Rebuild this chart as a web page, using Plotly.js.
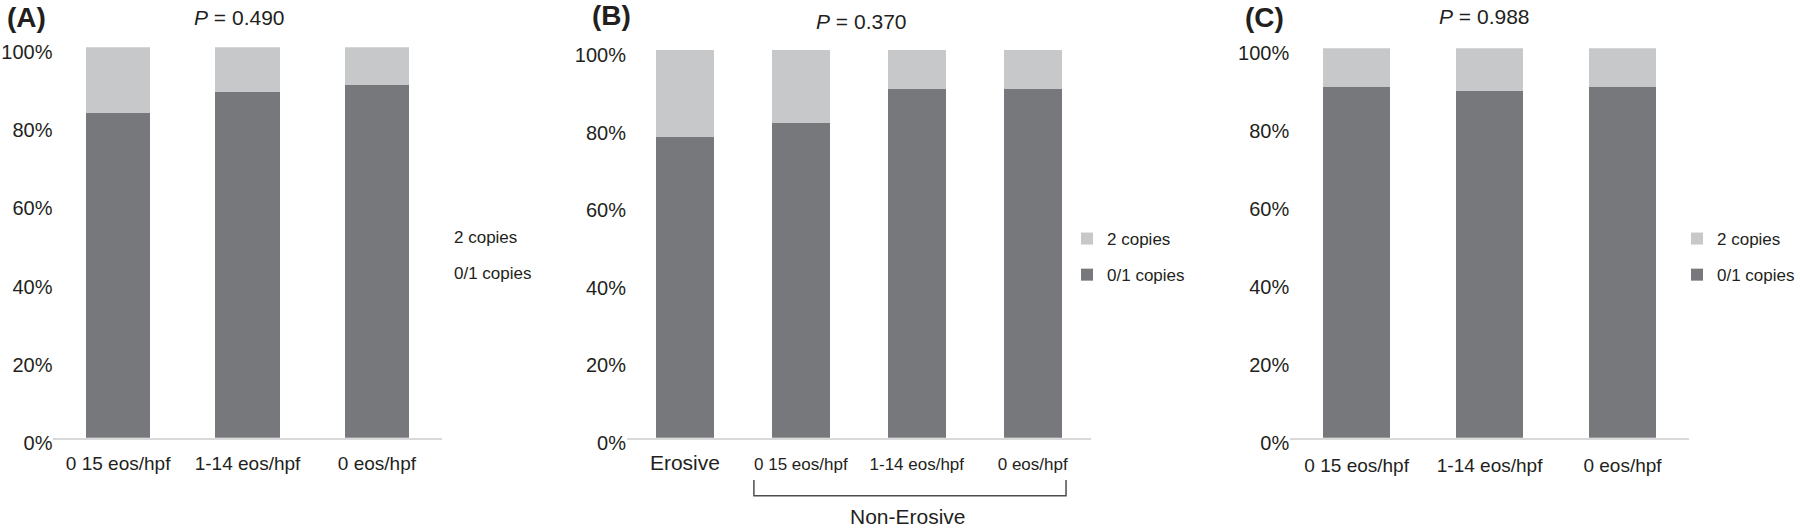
<!DOCTYPE html>
<html>
<head>
<meta charset="utf-8">
<script src="https://cdn.plot.ly/plotly-3.0.1.min.js"></script>
<style>html,body{margin:0;padding:0;background:#fff;}#chart{width:1800px;height:528px;}</style>
</head>
<body>
<div id="chart"></div>
<script>
// ---- data ----
const seriesNames = ["0/1 copies", "2 copies"];
const catsA = ["0 15 eos/hpf", "1-14 eos/hpf", "0 eos/hpf"];
const lowA = [83.3, 88.5, 90.4];
const highA = [16.7, 11.5, 9.6];
const catsB = ["Erosive", "0 15 eos/hpf", "1-14 eos/hpf", "0 eos/hpf"];
const lowB = [77.5, 81.2, 90.0, 90.0];
const highB = [22.5, 18.8, 10.0, 10.0];
const catsC = ["0 15 eos/hpf", "1-14 eos/hpf", "0 eos/hpf"];
const lowC = [90.0, 89.0, 90.0];
const highC = [10.0, 11.0, 10.0];
const yTicks = [0, 20, 40, 60, 80, 100];
const yTickText = ["0%", "20%", "40%", "60%", "80%", "100%"];
const panelLabels = ["(A)", "(B)", "(C)"];
const pValues = ["0.490", "0.370", "0.988"];
const groupLabel = "Non-Erosive";

// ---- style ----
const FONT = "Liberation Sans, Arial, Helvetica, sans-serif";
const DARK = "#77787b", LIGHT = "#c7c8ca", TXT = "#231f20";
const W = 1800, H = 528;
const px = v => v / W, py = v => (H - v) / H;

function bars(cats, low, high, xa, ya, legend, show) {
  return [
    {type: "bar", x: cats, y: low, name: seriesNames[0], marker: {color: DARK},
     xaxis: xa, yaxis: ya, legend: legend, showlegend: show, legendrank: 2,
     legendgroup: xa + "low", hoverinfo: "skip"},
    {type: "bar", x: cats, y: high, name: seriesNames[1], marker: {color: LIGHT},
     xaxis: xa, yaxis: ya, legend: legend, showlegend: show, legendrank: 1,
     legendgroup: xa + "high", hoverinfo: "skip"}
  ];
}
const data = [].concat(
  bars(catsA, lowA, highA, "x", "y", "legend", false),
  bars(catsB, lowB, highB, "x2", "y2", "legend", true),
  bars(catsC, lowC, highC, "x3", "y3", "legend2", true)
);

function xax(dom, anchor, n, size, standoff) {
  return {domain: dom, anchor: anchor, type: "category", range: [-0.5, n - 0.5],
    showline: true, linecolor: "#d9d9d9", linewidth: 2.5, ticks: "", showgrid: false,
    zeroline: false, ticklabelstandoff: standoff,
    tickfont: {family: FONT, size: size, color: TXT}, fixedrange: true};
}
function yax(dom, anchor) {
  return {domain: dom, anchor: anchor, range: [0, 100], tickmode: "array",
    tickvals: yTicks, ticktext: yTickText, ticklabelshift: 5,
    showline: false, showgrid: false, zeroline: false, ticks: "",
    tickfont: {family: FONT, size: 20, color: TXT}, fixedrange: true};
}
const xB = xax([px(628.7), px(1093.7)], "y2", catsB.length, 17, 9);
xB.tickmode = "array";
xB.tickvals = catsB;
xB.ticktext = catsB.map((c, i) => i === 0 ? '<span style="font-size:21px">' + c + '</span>' : c);

const legFont = {family: FONT, size: 17, color: TXT};
function ann(text, x, y, size, xanchor) {
  return {text: text, x: px(x), y: py(y), xref: "paper", yref: "paper", showarrow: false,
    xanchor: xanchor || "center", yanchor: "middle", font: {family: FONT, size: size, color: TXT}};
}
const legCommon = {xanchor: "left", y: py(257), yanchor: "middle", font: legFont,
  traceorder: "grouped", bgcolor: "rgba(0,0,0,0)", tracegroupgap: 11};
const layout = {
  width: W, height: H, margin: {l: 0, r: 0, t: 0, b: 0},
  paper_bgcolor: "#fff", plot_bgcolor: "#fff", barmode: "stack", bargap: 0.5,
  font: {family: FONT, color: TXT},
  xaxis: xax([px(53.6), px(442.8)], "y", catsA.length, 19, 7),
  yaxis: yax([(H - 437.7) / H, (H - 47.3) / H], "x"),
  xaxis2: xB,
  yaxis2: yax([(H - 437.7) / H, (H - 50) / H], "x2"),
  xaxis3: xax([px(1293.8), px(1693.7)], "y3", catsC.length, 19, 9),
  yaxis3: yax([(H - 437.7) / H, (H - 48.3) / H], "x3"),
  legend: Object.assign({x: px(1070)}, legCommon),
  legend2: Object.assign({x: px(1682)}, legCommon),
  annotations: [
    ann("<b>" + panelLabels[0] + "</b>", 27, 17, 28),
    ann("<b>" + panelLabels[1] + "</b>", 613, 16, 28),
    ann("<b>" + panelLabels[2] + "</b>", 1268, 17, 28),
    ann("<i>P</i> = " + pValues[0], 240, 17.5, 21),
    ann("<i>P</i> = " + pValues[1], 864, 22, 21),
    ann("<i>P</i> = " + pValues[2], 1489, 16.5, 21),
    ann(seriesNames[1], 453, 237, 17, "left"),
    ann(seriesNames[0], 453, 273, 17, "left"),
    ann(groupLabel, 910.5, 516, 21)
  ],
  shapes: [
    {type: "path", xref: "paper", yref: "paper",
     path: "M " + px(756) + "," + py(480) + " L " + px(756) + "," + py(495.7) + " L " + px(1069) + "," + py(495.7) + " L " + px(1069) + "," + py(480),
     line: {color: "#4d4d4f", width: 1.5}}
  ]
};
Plotly.newPlot("chart", data, layout, {displayModeBar: false, staticPlot: true});
</script>
</body>
</html>
